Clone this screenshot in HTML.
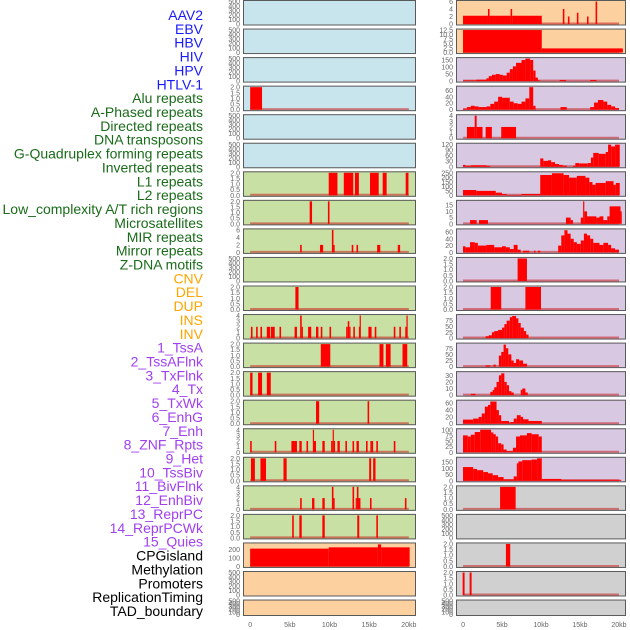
<!DOCTYPE html>
<html><head><meta charset="utf-8"><style>
html,body{margin:0;padding:0;background:#fff;}
svg{display:block;font-family:"Liberation Sans",sans-serif;}
</style></head><body>
<svg id="chart" width="630" height="630" viewBox="0 0 630 630" xmlns="http://www.w3.org/2000/svg"></svg>
<script>
const labelNames = ["AAV2","EBV","HBV","HIV","HPV","HTLV-1","Alu repeats","A-Phased repeats","Directed repeats","DNA transposons","G-Quadruplex forming repeats","Inverted repeats","L1 repeats","L2 repeats","Low_complexity A/T rich regions","Microsatellites","MIR repeats","Mirror repeats","Z-DNA motifs","CNV","DEL","DUP","INS","INV","1_TssA","2_TssAFlnk","3_TxFlnk","4_Tx","5_TxWk","6_EnhG","7_Enh","8_ZNF_Rpts","9_Het","10_TssBiv","11_BivFlnk","12_EnhBiv","13_ReprPC","14_ReprPCWk","15_Quies","CPGisland","Methylation","Promoters","ReplicationTiming","TAD_boundary"];
const labelGroups = ["b","b","b","b","b","b","g","g","g","g","g","g","g","g","g","g","g","g","g","o","o","o","o","o","p","p","p","p","p","p","p","p","p","p","p","p","p","p","p","k","k","k","k","k"];
const xTickValues = [0,5,10,15,20];
const xTickLabels = ["0","5kb","10kb","15kb","20kb"];

const leftBg = ["b","b","b","b","b","b","g","g","g","g","g","g","g","g","g","g","g","g","g","o","o","o"];
const rightBg = ["o","o","p","p","p","p","p","p","p","p","p","p","p","p","p","p","p","k","k","k","k","k"];
const leftMax = [500,500,500,2,500,500,2,2,6,500,2,4,2,2,2,4,2,4,2,265,500,500];
const rightMax = [6,12.5,160,70,4,122,255,18,66,2,2,97,92,34,66,100,180,2,500,2,2,500];
const leftTicks = [[0,100,200,300,400,500],[0,100,200,300,400,500],[0,100,200,300,400,500],[0,0.5,1,1.5,2],[0,100,200,300,400,500],[0,100,200,300,400,500],[0,0.5,1,1.5,2],[0,0.5,1,1.5,2],[0,2,4,6],[0,100,200,300,400,500],[0,0.5,1,1.5,2],[0,1,2,3,4],[0,0.5,1,1.5,2],[0,0.5,1,1.5,2],[0,0.5,1,1.5,2],[0,1,2,3,4],[0,0.5,1,1.5,2],[0,1,2,3,4],[0,0.5,1,1.5,2],[0,100,200],[0,100,200,300,400,500],[0,100,200,300,400,500]];
const rightTicks = [[0,2,4,6],[0,2.5,5,7.5,10,12.5],[0,50,100,150],[0,20,40,60],[0,1,2,3,4],[0,30,60,90,120],[0,50,100,150,200,250],[0,5,10,15],[0,20,40,60],[0,0.5,1,1.5,2],[0,0.5,1,1.5,2],[0,25,50,75],[0,25,50,75],[0,10,20,30],[0,20,40,60],[0,25,50,75,100],[0,50,100,150],[0,0.5,1,1.5,2],[0,100,200,300,400,500],[0,0.5,1,1.5,2],[0,0.5,1,1.5,2],[0,100,200,300,400,500]];

const leftData = [
 [],[],[],
 [[0,1.5,2]],
 [],[],
 [[9.9,11.0,2],[11.8,13.0,2],[13.2,13.7,2],[15.1,16.2,2],[16.7,17.2,2],[19.6,19.95,2]],
 [[7.5,7.8,2],[9.8,10.0,2]],
 [[6.3,6.5,2],[8.8,9.2,2],[10.3,10.5,6],[10.5,10.6,2],[12.8,13.0,2],[13.4,13.6,2],[16.0,16.4,2],[18.6,18.9,2]],
 [],
 [[5.7,6.1,2]],
 [[0.1,0.3,2],[0.75,0.95,2],[1.3,1.5,2],[2.1,2.5,2],[2.6,3.1,2],[3.7,3.9,2],[5.6,5.9,2],[6.3,6.5,4],[6.5,6.6,2],[7.3,7.7,2],[8.3,8.6,2],[8.9,9.1,2],[10.0,10.2,2],[12.1,12.3,2],[12.3,12.5,3],[12.5,12.6,2],[13.0,13.2,2],[13.7,13.8,2],[13.8,13.95,4],[14.9,15.3,2],[15.7,15.9,2],[18.1,18.3,2],[18.8,19.0,2],[19.55,19.7,2],[19.7,19.8,4]],
 [[8.9,10.1,2],[16.3,16.8,2],[17.1,17.7,2],[19.2,19.8,2]],
 [[0.0,0.3,2],[1.0,1.5,2],[2.1,2.6,2]],
 [[8.3,8.7,2],[14.8,15.0,2]],
 [[0.0,0.2,2],[3.1,3.3,2],[5.2,5.9,2],[6.2,6.5,2],[7.1,7.3,2],[7.9,8.05,4],[8.05,8.3,2],[9.1,9.4,2],[10.2,10.4,2],[10.4,10.55,4],[10.55,10.7,2],[11.0,11.3,2],[12.0,12.2,2],[12.9,13.1,2],[13.4,13.7,2],[14.6,14.8,2],[15.15,15.3,2],[15.3,15.5,2],[15.9,16.1,2],[18.1,18.3,2]],
 [[0.1,0.6,2],[1.3,2.0,2],[4.2,4.6,2],[15.0,15.25,2],[15.5,15.8,2]],
 [[6.3,6.5,2],[7.8,8.1,2],[9.1,9.4,2],[10.3,10.5,4],[10.5,10.6,2],[12.9,13.1,4],[13.3,13.45,2],[13.45,13.65,4],[13.65,13.9,2],[15.1,15.3,2],[19.5,19.7,2]],
 [[5.3,5.5,2],[6.2,6.5,2],[9.1,9.4,2],[13.5,13.75,2],[15.9,16.1,2]],
 [[0,9.9,210],[9.9,16.1,225],[16.1,16.5,260],[16.5,20.1,225]],
 [],[]
];
const rightData = [
 [[0,3.2,2.2],[3.2,3.4,4],[3.4,6.1,2.2],[6.1,6.3,4],[6.3,10.1,2.2],[12.8,13.0,4],[13.45,13.65,2],[14.6,14.8,3],[15.9,16.1,2],[17.0,17.2,6]],
 [[0,10.1,12.5],[10.1,20.5,2.3]],
 [[0,1.7,5],[1.7,3.0,10],[3.0,3.3,20],[3.3,3.7,35],[3.7,4.2,45],[4.2,4.7,50],[4.7,5.1,45],[5.1,5.6,40],[5.6,6.0,60],[6.0,6.4,85],[6.4,6.8,105],[6.8,7.5,130],[7.5,8.0,150],[8.0,8.6,160],[8.6,9.0,150],[9.0,9.3,75],[9.3,9.6,25],[9.6,9.9,5],[12.4,13.2,8],[16.3,17.1,8]],
 [[0,0.5,3],[0.5,1.0,8],[1.0,1.5,12],[1.5,2.0,10],[2.0,3.0,8],[3.0,3.5,10],[3.5,4.0,18],[4.0,4.5,25],[4.5,5.0,40],[5.0,6.0,37],[6.0,6.5,25],[6.5,7.0,20],[7.0,7.5,18],[7.5,8.0,25],[8.0,8.5,35],[8.5,9.0,70],[9.0,9.3,12],[12.5,13.3,8],[16.3,16.8,8],[16.8,17.3,22],[17.3,18.0,30],[18.0,18.5,25],[18.5,19.0,15],[19.0,19.5,10],[19.5,20.0,5]],
 [[0.5,1.5,2],[1.5,1.75,4],[1.75,2.5,2],[2.9,3.7,2],[4.9,6.8,2]],
 [[0,0.3,10],[0.3,1.0,5],[1.0,3.0,8],[3.0,3.5,5],[9.9,10.3,45],[10.3,10.9,32],[10.9,11.3,35],[11.3,11.8,25],[11.8,12.3,15],[12.3,12.8,10],[12.8,13.3,6],[14.1,14.4,5],[14.4,14.9,20],[14.9,16.0,18],[16.0,16.4,20],[16.4,16.7,50],[16.7,17.4,75],[17.4,18.3,70],[18.3,18.6,80],[18.6,19.0,120],[19.0,19.5,110],[19.5,20.1,120]],
 [[0,1.7,60],[1.7,4.2,50],[4.2,5.0,30],[5.0,5.6,15],[5.6,7.5,3],[7.5,9.9,15],[9.9,11.4,230],[11.4,12.9,250],[12.9,13.6,230],[13.6,14.6,200],[14.6,15.7,220],[15.7,16.2,200],[16.2,16.6,150],[16.6,17.0,120],[17.0,18.3,140],[18.3,19.3,160],[19.3,19.6,120],[19.6,20.1,140]],
 [[0.9,1.75,3],[2.05,3.2,3],[13.2,13.8,5],[13.8,14.1,3],[15.1,15.4,5],[15.4,15.55,18],[15.55,15.9,10],[15.9,17.1,6],[17.1,17.5,5],[17.5,18.0,6],[18.0,18.5,3],[18.5,18.8,6],[18.8,20.2,14],[20.2,20.35,10]],
 [[0,0.3,18],[0.3,0.9,15],[0.9,1.5,30],[1.5,1.9,28],[1.9,3.0,20],[3.0,4.0,22],[4.0,5.0,15],[5.0,5.5,18],[5.5,6.0,15],[6.0,6.5,10],[6.5,7.0,22],[7.0,7.4,8],[7.7,8.5,5],[9.1,9.3,5],[9.6,9.9,5],[12.2,12.6,20],[12.6,13.0,50],[13.0,13.4,65],[13.4,13.8,55],[13.8,14.2,40],[14.2,14.6,30],[14.6,15.1,25],[15.1,15.5,35],[15.5,15.9,55],[15.9,16.3,50],[16.3,16.7,40],[16.7,17.5,28],[17.5,18.0,22],[18.0,18.6,28],[18.6,19.0,22],[19.0,19.5,12],[19.5,20.0,8]],
 [[7.0,8.2,2]],
 [[3.55,4.9,2],[8.0,10.0,2]],
 [[2.9,3.3,8],[3.3,3.7,12],[3.7,4.0,25],[4.0,4.5,30],[4.5,5.0,35],[5.0,5.3,45],[5.3,5.6,60],[5.6,6.0,75],[6.0,6.3,90],[6.3,6.8,95],[6.8,7.1,85],[7.1,7.4,65],[7.4,7.8,45],[7.8,8.1,30],[8.1,8.4,15]],
 [[2.9,3.5,5],[3.9,4.2,8],[4.6,4.9,45],[4.9,5.2,60],[5.2,5.5,90],[5.5,5.8,75],[5.8,6.2,50],[6.2,6.5,25],[6.5,6.8,15],[6.8,7.2,30],[7.2,7.7,25],[7.7,8.2,12]],
 [[1.0,1.6,2],[3.5,3.8,5],[3.8,4.0,8],[4.0,4.3,12],[4.3,4.6,20],[4.6,4.9,30],[4.9,5.3,33],[5.3,5.6,20],[5.6,5.9,15],[5.9,6.2,6],[6.2,6.5,4],[7.4,7.6,8],[7.6,8.0,10],[8.0,8.3,4]],
 [[0,1.3,12],[1.3,2.0,15],[2.0,2.4,20],[2.4,2.8,30],[2.8,3.2,50],[3.2,3.5,55],[3.5,4.3,65],[4.3,4.6,40],[4.6,4.9,25],[4.9,5.9,8],[5.9,6.1,3],[6.1,6.5,5],[6.5,6.9,15],[6.9,7.4,25],[7.4,7.7,20],[7.7,8.4,13],[8.4,10.1,8]],
 [[0,0.6,75],[0.6,1.0,70],[1.0,1.5,78],[1.5,2.2,90],[2.2,3.6,100],[3.6,3.9,88],[3.9,4.2,80],[4.2,4.5,70],[4.5,4.9,40],[4.9,5.2,35],[5.2,5.6,12],[5.6,6.4,5],[6.4,6.8,20],[6.8,7.3,70],[7.3,8.2,75],[8.2,8.8,85],[8.8,9.7,80],[9.7,10.1,70]],
 [[0,1.3,110],[1.3,1.8,95],[1.8,2.6,85],[2.6,3.2,70],[3.2,3.8,60],[3.8,4.5,45],[4.5,5.2,30],[5.2,6.5,12],[6.5,6.9,35],[6.9,7.1,140],[7.1,7.6,155],[7.6,8.8,165],[8.8,9.5,170],[9.5,10.1,180],[10.1,12.6,15],[12.6,20.3,8]],
 [[4.75,6.75,2]],
 [],
 [[5.5,6.05,2]],
 [[-0.05,0.2,2],[0.85,1.1,2]],
 []
];

const NS = "http://www.w3.org/2000/svg";
const svg = document.getElementById("chart");
const bgColors = {b:"#c8e4ec",g:"#c8e0a4",o:"#fdd0a0",p:"#d8c8e2",k:"#d0d0d0"};
const labelColors = {b:"#1a1aff",g:"#1a6b1a",o:"#ffa500",p:"#a040f0",k:"#000000"};
function mk(tag, attrs){const e=document.createElementNS(NS,tag);for(const k in attrs)e.setAttribute(k,attrs[k]);return e;}

labelNames.forEach((name,i)=>{
  const t = mk("text",{x:203,y:20+i*13.86,"text-anchor":"end","font-size":"14",fill:labelColors[labelGroups[i]]});
  
  
  t.textContent = name;
  svg.appendChild(t);
});

function rowTop(i){return 28.55*i;}
function rowBottom(i){return i===21 ? 616 : rowTop(i)+25.5;}

function drawColumn(side, x0, x1, bgs, maxes, ticks, data){
  const dMin=-0.9, dMax=20.9;
  const xs = kb => x0 + (kb-dMin)/(dMax-dMin)*(x1-x0);
  for(let i=0;i<22;i++){
    const top=rowTop(i), bot=rowBottom(i), h=bot-top;
    const ys = v => (bot-1.5) - v/maxes[i]*(h-3);
    const g = mk("g",{});
    
    
    const r = mk("rect",{x:x0,y:top,width:x1-x0,height:h,fill:bgColors[bgs[i]]});
    
    
    g.appendChild(r);
    const segs = data[i];
    if(segs.length){
      const bl = mk("line",{x1:xs(0),x2:xs(20),y1:ys(0)-0.5,y2:ys(0)-0.5,stroke:"rgba(200,30,30,0.55)","stroke-width":2});
      
      
      g.appendChild(bl);
    }
    segs.forEach(s=>{
      const y=ys(s[2]);
      const b = mk("rect",{x:xs(s[0]),y:y,width:Math.max(1.2,xs(s[1])-xs(s[0])),height:Math.max(0.5,ys(0)-y),fill:"#ff0000"});
      
      
      g.appendChild(b);
    });
    const br = mk("rect",{x:x0+0.5,y:top+0.5,width:x1-x0-1,height:h-1,fill:"none",stroke:"#5a5a5a","stroke-width":1});
    
    
    g.appendChild(br);
    const decimals = ticks[i].some(v=>v%1);
    ticks[i].forEach(tv=>{
      const t = mk("text",{x:x0-3,y:ys(tv)+2.5,"text-anchor":"end","font-size":"7",fill:"#666"});
      
      
      t.textContent = decimals ? tv.toFixed(1) : String(tv);
      g.appendChild(t);
    });
    svg.appendChild(g);
  }
  xTickValues.forEach((v,j)=>{
    const t = mk("text",{x:xs(v),y:627,"text-anchor":"middle","font-size":"7",fill:"#666"});
    
    
    t.textContent = xTickLabels[j];
    svg.appendChild(t);
  });
}
drawColumn("left",243,416,leftBg,leftMax,leftTicks,leftData);
drawColumn("right",456,626,rightBg,rightMax,rightTicks,rightData);
</script>
</body></html>
